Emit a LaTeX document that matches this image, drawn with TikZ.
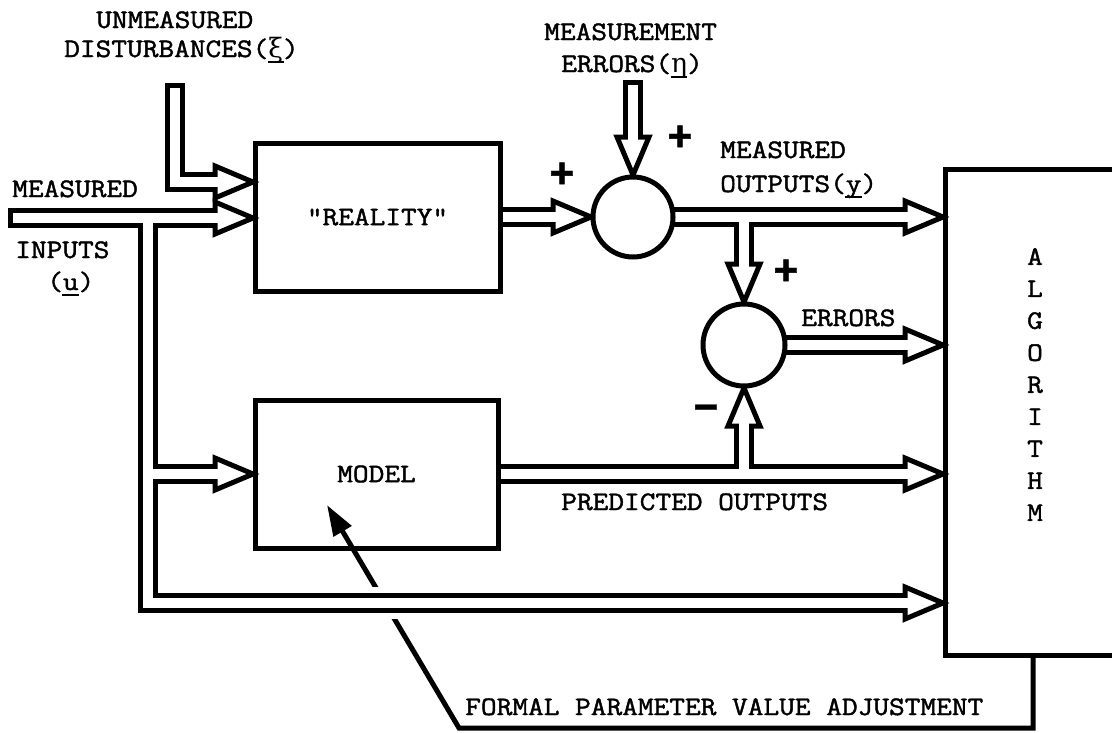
\documentclass[tikz,border=0pt]{standalone}
\usepackage{fontspec}
\setmonofont{Latin Modern Mono}[FakeStretch=1.143, FakeBold=1.6]
\newfontfamily\signfont{Liberation Sans}[FakeBold=1]
\newfontfamily\grk{DejaVu Serif}
\usetikzlibrary{arrows.meta}
% one drawing unit = one pixel of the 1112 x 732 sheet
\newcommand\pxl{0.75pt}
% typewriter-style underline of a single character
\newcommand\ulchar[1]{\makebox[0pt][l]{\hspace{-0.02em}\rule[-4.5pt]{0.62em}{1.4pt}}#1}
% open arrow heads of the double-line signal paths (argument: tip coordinate)
\newcommand\headR[1]{\draw[head] ([shift={(-40,-16)}]#1) -- ([shift={(-2,0)}]#1) -- ([shift={(-40,16)}]#1) -- cycle;}
\newcommand\headD[1]{\draw[head] ([shift={(-16,-40)}]#1) -- ([shift={(0,-2)}]#1) -- ([shift={(16,-40)}]#1) -- cycle;}
\newcommand\headU[1]{\draw[head] ([shift={(-16,40)}]#1) -- ([shift={(0,2)}]#1) -- ([shift={(16,40)}]#1) -- cycle;}
\tikzset{
  box/.style={draw, line width=5*\pxl, inner sep=0pt, outer sep=0pt,
    font=\ttfamily\fontsize{20}{24}\selectfont},
  sumnode/.style={circle, draw, fill=white, line width=5*\pxl, inner sep=0pt, outer sep=0pt},
  shaft/.style={line width=20*\pxl, line join=miter},
  bore/.style={white, line width=10*\pxl, line join=miter},
  head/.style={draw, fill=white, line width=5*\pxl, line join=miter},
  fbline/.style={line width=5*\pxl, line join=miter},
  lbl/.style={font=\ttfamily\fontsize{20}{24}\selectfont, inner sep=0pt, anchor=base west},
  sign/.style={font=\signfont\bfseries\fontsize{32}{32}\selectfont, inner sep=0pt},
}
\begin{document}
\begin{tikzpicture}[x=\pxl, y=-\pxl]
\useasboundingbox (0,0) rectangle (1112,732);
\clip (0,0) rectangle (1112,732);

% blocks
\node[box, minimum width=245*\pxl, minimum height=148*\pxl] (reality) at (377.5,217) {"REALITY"};
\node[box, minimum width=243*\pxl, minimum height=148*\pxl] (model) at (376.5,474) {MODEL};
\node[box, minimum width=255*\pxl, minimum height=486*\pxl] (algo) at (1072.5,412) {};
\node[lbl, anchor=center, align=center] (algtxt) at (1035,384.5) {A\\L\\G\\O\\R\\I\\T\\H\\M};

% summing junctions (drawn again on top later)
\path (633,217) node[minimum size=80*\pxl, circle, inner sep=0pt, outer sep=0pt] (sum1) {};
\path (744,345) node[minimum size=82*\pxl, circle, inner sep=0pt, outer sep=0pt] (sum2) {};

% path points
\coordinate (inL) at (8,218);
\coordinate (inJ) at (148,218);
\coordinate (inTip) at (reality.west |- inL);
\coordinate (mdJ) at (148,474);
\coordinate (mdTip) at (model.west |- mdJ);
\coordinate (brBot) at (148,603);
\coordinate (botTip) at (algo.west |- brBot);
\coordinate (dTop) at (175,83);
\coordinate (dBend) at (175,182);
\coordinate (dTip) at (reality.west |- dBend);
\coordinate (rOut) at (reality.east |- sum1);
\coordinate (eTop) at (633,80);
\coordinate (mJ) at (sum2.north |- sum1);
\coordinate (yTip) at (algo.west |- sum1);
\coordinate (errTip) at (algo.west |- sum2);
\coordinate (pOut) at (model.east);
\coordinate (pJ) at (sum2.south |- model);
\coordinate (pTip) at (algo.west |- model);
\coordinate (fbX) at (1033,728);
\coordinate (fbA) at (fbX |- algo.south);
\coordinate (fbB) at (459,728);
\coordinate (fbTip) at (327,505);
\coordinate (haloA) at (370,603);
\coordinate (haloB) at (490,603);

% parameter adjustment feedback
\draw[fbline, -{Triangle[length=23pt,width=15pt]}] (fbA) -- (fbX) -- (fbB) -- (fbTip);
\draw[white, line width=32*\pxl] (haloA) -- (haloB);

% double-line signal paths: outer strokes
\draw[shaft] (inL) -- ([shift={(-40,0)}]inTip);
\draw[shaft] (inJ) -- (brBot) -- ([shift={(-40,0)}]botTip);
\draw[shaft] (mdJ) -- ([shift={(-40,0)}]mdTip);
\draw[shaft] (dTop) -- (dBend) -- ([shift={(-40,0)}]dTip);
\draw[shaft] (rOut) -- ([shift={(-40,0)}]sum1.west);
\draw[shaft] (eTop) -- ([shift={(0,-40)}]sum1.north);
\draw[shaft] (sum1.center) -- ([shift={(-40,0)}]yTip);
\draw[shaft] (mJ) -- ([shift={(0,-40)}]sum2.north);
\draw[shaft] (sum2.center) -- ([shift={(-40,0)}]errTip);
\draw[shaft] (pOut) -- ([shift={(-40,0)}]pTip);
\draw[shaft] (pJ) -- ([shift={(0,40)}]sum2.south);

% arrow heads
\headR{inTip}
\headR{botTip}
\headR{mdTip}
\headR{dTip}
\headR{sum1.west}
\headD{sum1.north}
\headR{yTip}
\headD{sum2.north}
\headR{errTip}
\headR{pTip}
\headU{sum2.south}

% double-line signal paths: hollow interiors
\draw[bore] ([shift={(5,0)}]inL) -- ([shift={(-35,0)}]inTip);
\draw[bore] (inJ) -- (brBot) -- ([shift={(-35,0)}]botTip);
\draw[bore] (mdJ) -- ([shift={(-35,0)}]mdTip);
\draw[bore] ([shift={(0,5)}]dTop) -- (dBend) -- ([shift={(-35,0)}]dTip);
\draw[bore] ([shift={(2.5,0)}]rOut) -- ([shift={(-35,0)}]sum1.west);
\draw[bore] ([shift={(0,5)}]eTop) -- ([shift={(0,-35)}]sum1.north);
\draw[bore] (sum1.center) -- ([shift={(-35,0)}]yTip);
\draw[bore] (mJ) -- ([shift={(0,-35)}]sum2.north);
\draw[bore] (sum2.center) -- ([shift={(-35,0)}]errTip);
\draw[bore] ([shift={(2.5,0)}]pOut) -- ([shift={(-35,0)}]pTip);
\draw[bore] (pJ) -- ([shift={(0,35)}]sum2.south);

% summing junction circles
\node[sumnode, minimum size=80*\pxl] at (sum1) {};
\node[sumnode, minimum size=82*\pxl] at (sum2) {};

% signs
\node[sign] (plusA) at (562,175) {+};
\node[sign] (plusB) at (680,138) {+};
\node[sign] (plusC) at (786,272) {+};
\node[sign] (minusA) at (706,413) {−};

% labels
\node[lbl] (tUnm) at (96,28) {UNMEASURED};
\node[lbl] (tDist) at (64,57) {DISTURBANCES(\ulchar{{\grk ξ}})};
\node[lbl] (tMin) at (12,197) {MEASURED};
\node[lbl] (tInp) at (15,258) {INPUTS};
\node[lbl] (tU) at (47,290) {(\ulchar{u})};
\node[lbl] (tMe) at (544,40) {MEASUREMENT};
\node[lbl] (tEr) at (561,72) {ERRORS(\ulchar{{\grk η}})};
\node[lbl] (tMo) at (720,158) {MEASURED};
\node[lbl] (tOut) at (720,192) {OUTPUTS(\ulchar{y})};
\node[lbl] (tErr) at (801,326) {ERRORS};
\node[lbl] (tPred) at (561,510) {PREDICTED OUTPUTS};
\node[lbl] (tFpv) at (465,715) {FORMAL PARAMETER VALUE ADJUSTMENT};
\end{tikzpicture}
\end{document}
